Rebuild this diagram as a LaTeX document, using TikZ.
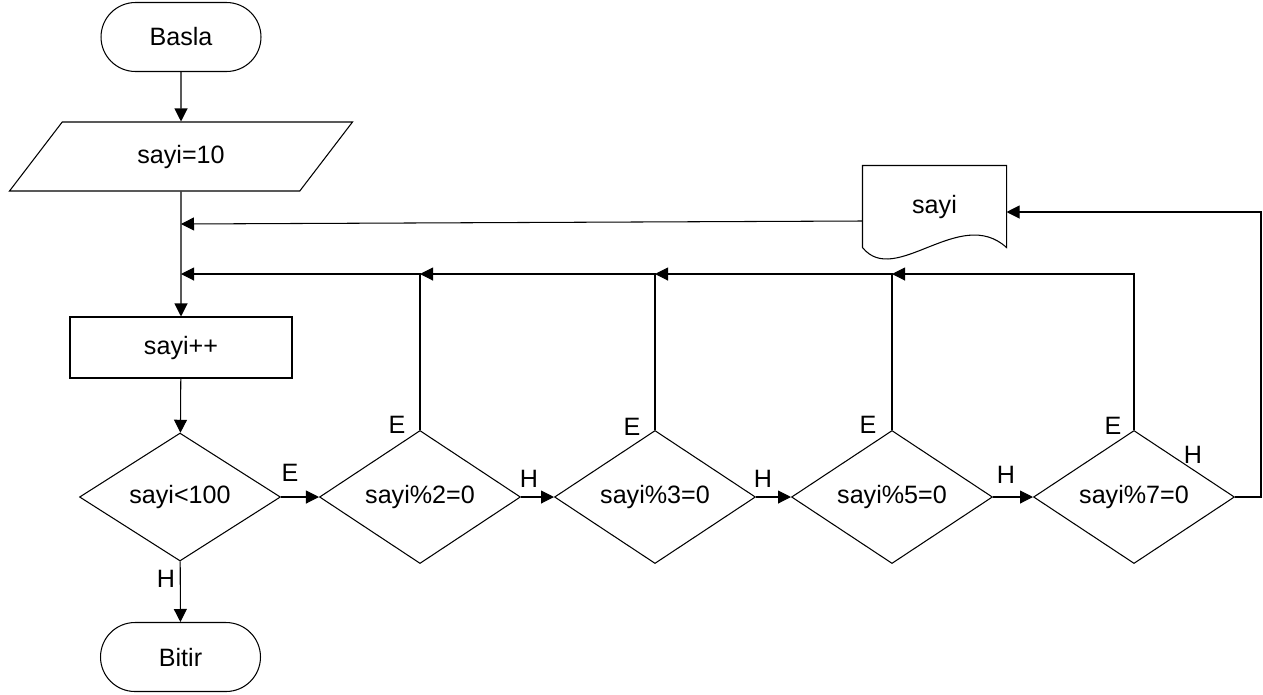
\documentclass[tikz,border=0pt]{standalone}
\usepackage{fontspec}
\setmainfont{Liberation Sans}
\usetikzlibrary{shapes.geometric,arrows.meta}

\tikzset{
  terminal/.style={draw, rounded corners=0.69cm, minimum width=3.2cm, minimum height=1.38cm},
  inputbox/.style={draw, trapezium, trapezium stretches, trapezium left angle=50.4,
    trapezium right angle=129.6, minimum width=6.88cm, minimum height=1.38cm, inner sep=0pt},
  process/.style={draw, rectangle, minimum width=4.44cm, minimum height=1.22cm},
  decision/.style={draw, diamond, minimum width=4.02cm, minimum height=2.56cm, inner sep=0pt},
  tag/.style={inner sep=0pt},
  arr/.style={-{Triangle[length=0.26cm, width=0.26cm]}},
}

\begin{document}
\begin{tikzpicture}[x=0.02cm, y=-0.02cm, line width=0.6pt,
    font=\fontsize{14.3}{17}\selectfont]
  \useasboundingbox (0,0) rectangle (1263,694);

  \node[terminal] (start) at (181,37) {Basla};
  \node[inputbox] (init) at (181,156.5) {sayi=10};
  \node[process] (inc) at (181,347.5) {sayi++};
  \node[decision] (cond) at (180,497) {sayi<100};
  \node[terminal] (stop) at (180.5,657) {Bitir};

  \node[decision] (d2) at (420,497) {sayi\%2=0};
  \node[decision] (d3) at (655,497) {sayi\%3=0};
  \node[decision] (d5) at (892,497) {sayi\%5=0};
  \node[decision] (d7) at (1134,497) {sayi\%7=0};

  % output document
  \node[minimum width=2.86cm, minimum height=1.62cm, inner sep=0pt] (out) at (934.5,206.5)
    {\raisebox{0.09cm}{sayi}};
  \draw (out.south west) -- (out.north west) -- (out.north east) -- (out.south east)
    .. controls (960,205) and (895,288) .. (out.south west);

  \coordinate (j1) at (181,224);
  \coordinate (j2) at (181,274);
  \coordinate (rt) at (1261,212);

  \draw[arr] (start) -- (init);
  \draw[arr] (init) -- (inc);
  \draw[arr] (inc) -- (cond);
  \draw[arr] (cond) -- (stop);
  \draw[arr] (cond) -- (d2);
  \draw[arr] (d2) -- (d3);
  \draw[arr] (d3) -- (d5);
  \draw[arr] (d5) -- (d7);

  \draw[arr] (d2.north) |- (j2);
  \draw[arr] (d3.north) |- (d2.north |- j2);
  \draw[arr] (d5.north) |- (d3.north |- j2);
  \draw[arr] (d7.north) |- (d5.north |- j2);

  \draw[arr] (d7.east) -| (rt) -- (rt -| out.east);
  \draw[arr] ([yshift=-0.29cm]out.west) -- (j1);

  % yes / no labels
  \node[tag] (e1) at (290,473) {E};
  \node[tag] (h1) at (166,579) {H};
  \node[tag] (e2) at (397,425) {E};
  \node[tag] (h2) at (529,479) {H};
  \node[tag] (e3) at (632,427) {E};
  \node[tag] (h3) at (763,479) {H};
  \node[tag] (e5) at (868,425) {E};
  \node[tag] (h5) at (1006,475) {H};
  \node[tag] (e7) at (1113,426) {E};
  \node[tag] (h7) at (1193,455) {H};
\end{tikzpicture}
\end{document}
